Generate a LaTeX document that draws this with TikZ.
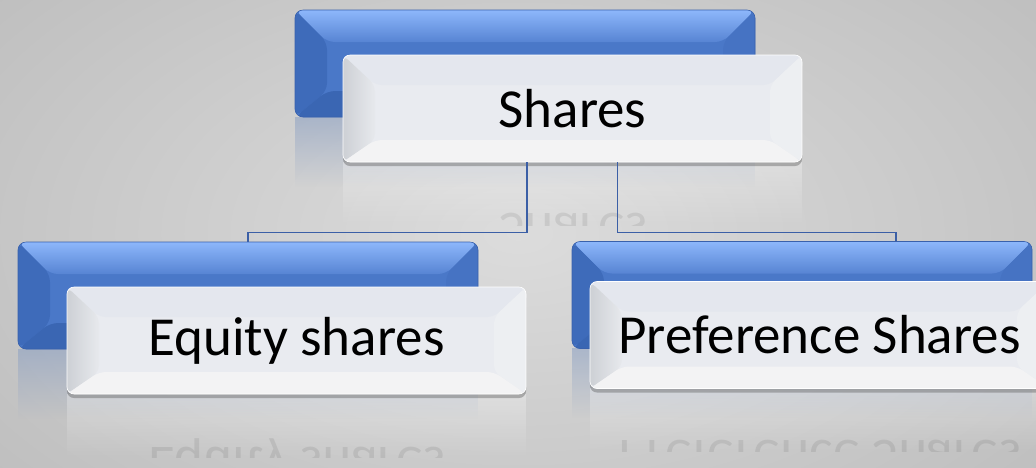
\documentclass[tikz,border=0pt]{standalone}
\usepackage{fontspec}
\setmainfont{Carlito}
\usetikzlibrary{shadows,fadings}
\definecolor{bgin}{HTML}{DCDCDC}
\definecolor{bgout}{HTML}{BFBFBF}
\definecolor{bltopA}{HTML}{8DB7FB}
\definecolor{bltopB}{HTML}{5784D3}
\definecolor{blmid}{HTML}{4A78C8}
\definecolor{blleft}{HTML}{3E6BBA}
\definecolor{blright}{HTML}{4673C3}
\definecolor{blbot}{HTML}{3A66B3}
\definecolor{bledge}{HTML}{3961AC}
\definecolor{whmid}{HTML}{E9EBF0}
\definecolor{whtop}{HTML}{E4E7EE}
\definecolor{whleftA}{HTML}{CDD0D5}
\definecolor{whleftB}{HTML}{E7E9ED}
\definecolor{whright}{HTML}{EDEFF2}
\definecolor{whbot}{HTML}{F3F3F4}
\definecolor{conncol}{HTML}{3B5FA6}
\tikzset{
  bluebox/.style={rounded corners=8pt, draw=bledge, line width=0.6pt, fill=blmid,
    inner sep=0pt, minimum width=460pt, minimum height=107pt,
    path picture={
      \path (path picture bounding box.north west) coordinate (pnw)
            (path picture bounding box.north east) coordinate (pne)
            (path picture bounding box.south west) coordinate (psw)
            (path picture bounding box.south east) coordinate (pse);
      \shade[top color=bltopA, bottom color=bltopB] (pnw) -- (pne) -- ([shift={(-32pt,-32pt)}]pne) -- ([shift={(32pt,-32pt)}]pnw) -- cycle;
      \fill[blleft] (pnw) -- ([shift={(32pt,-32pt)}]pnw) -- ([shift={(32pt,26pt)}]psw) -- (psw) -- cycle;
      \fill[blright] (pne) -- ([shift={(-32pt,-32pt)}]pne) -- ([shift={(-32pt,26pt)}]pse) -- (pse) -- cycle;
      \fill[blbot] (psw) -- ([shift={(32pt,26pt)}]psw) -- ([shift={(-32pt,26pt)}]pse) -- (pse) -- cycle;
    }},
  whitebox/.style={rounded corners=7pt, draw=white, line width=0.6pt, fill=whmid,
    inner sep=0pt, minimum width=459pt, minimum height=107pt,
    font=\fontsize{55}{66}\selectfont, text=black,
    drop shadow={shadow xshift=0pt, shadow yshift=-4pt, opacity=0.4, fill=black!65},
    path picture={
      \path (path picture bounding box.north west) coordinate (pnw)
            (path picture bounding box.north east) coordinate (pne)
            (path picture bounding box.south west) coordinate (psw)
            (path picture bounding box.south east) coordinate (pse);
      \fill[whtop] (pnw) -- (pne) -- ([shift={(-32pt,-30pt)}]pne) -- ([shift={(32pt,-30pt)}]pnw) -- cycle;
      \shade[left color=whleftA, right color=whleftB] (pnw) -- ([shift={(32pt,-30pt)}]pnw) -- ([shift={(32pt,22pt)}]psw) -- (psw) -- cycle;
      \fill[whright] (pne) -- ([shift={(-32pt,-30pt)}]pne) -- ([shift={(-32pt,22pt)}]pse) -- (pse) -- cycle;
      \fill[whbot] (psw) -- ([shift={(32pt,22pt)}]psw) -- ([shift={(-32pt,22pt)}]pse) -- (pse) -- cycle;
    }},
  bluerefl/.style={fill=blmid!45!bgout, opacity=0.55, path fading=south, inner sep=0pt, minimum width=460pt, minimum height=70pt},
  whiterefl/.style={fill=white, opacity=0.3, path fading=south, inner sep=0pt, minimum width=459pt, minimum height=63pt},
  refltext/.style={yscale=-1, anchor=base, inner sep=0pt, font=\fontsize{55}{66}\selectfont, text=black, opacity=0.08},
  conn/.style={draw=conncol, line width=1.5pt}
}
\begin{document}
\begin{tikzpicture}[x=1pt,y=-1pt]
\useasboundingbox (0,0) rectangle (1036,467);
\shade[inner color=bgin, outer color=bgout] (-150,-150) rectangle (1186,617);
% reflections
\node[bluerefl] (rbshares) at (525,152) {};
\node[bluerefl] (rbequity) at (248,384) {};
\node[bluerefl] (rbpref) at (802,383) {};
\node[whiterefl] (rshares) at (572.5,194) {};
\node[whiterefl] (requity) at (296.5,426) {};
\node[whiterefl] (rpref) at (819.5,420) {};
\begin{scope}
\clip (343,162) rectangle (802,225);
\node[refltext] (tshares) at (573,213) {Shares};
\end{scope}
\begin{scope}
\clip (68,394) rectangle (525,457);
\node[refltext] (tequity) at (297,447) {Equity shares};
\end{scope}
\begin{scope}
\clip (590,388) rectangle (1049,451);
\node[refltext] (tpref) at (819.5,440) {Preference Shares};
\end{scope}
% blue back boxes
\node[bluebox] (bshares) at (525,63.5) {};
\node[bluebox] (bequity) at (248,295.5) {};
\node[bluebox] (bpref) at (802,295) {};
% white front boxes
\node[whitebox] (shares) at (572.5,108.5) {Shares};
\node[whitebox] (equity) at (296.5,340.5) {Equity shares};
\node[whitebox] (pref) at (819.5,335) {Preference Shares};
% connectors
\coordinate (bus) at (572,232.5);
\coordinate (prefdrop) at (896,242);
\draw[conn] ([xshift=-45.5pt]shares.south) -- ([xshift=-45.5pt]shares.south |- bus) -| (bequity.north);
\draw[conn] ([xshift=45pt]shares.south) -- ([xshift=45pt]shares.south |- bus) -| (prefdrop);
\end{tikzpicture}
\end{document}
